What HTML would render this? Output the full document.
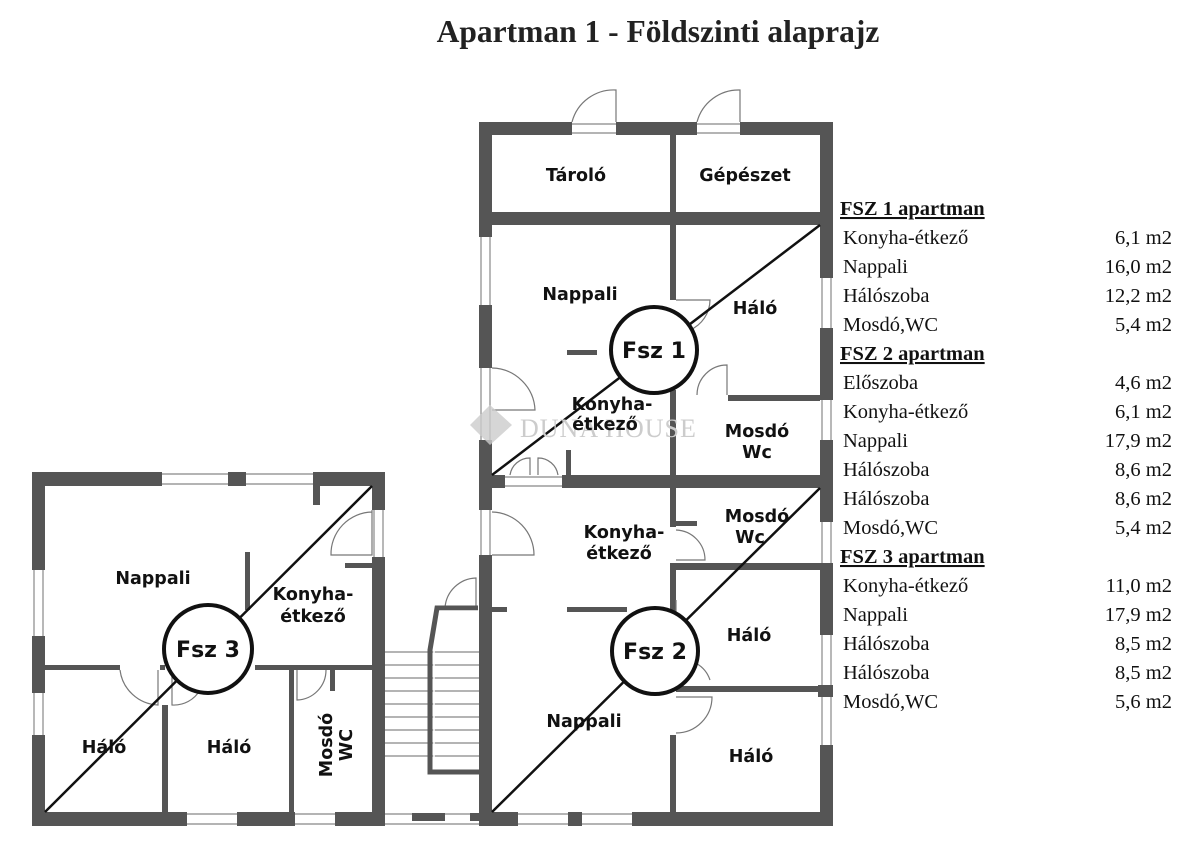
<!DOCTYPE html>
<html><head><meta charset="utf-8"><style>
html,body{margin:0;padding:0;background:#fff;}
svg{display:block}
.w{fill:#555}
.lab{font-family:"DejaVu Sans","Liberation Sans",sans-serif;font-weight:bold;font-size:17.5px;fill:#111;text-anchor:middle}
.t{font-family:"Liberation Serif",serif;font-size:20.5px;fill:#111}
.tr{font-family:"Liberation Serif",serif;font-size:20.5px;fill:#111;text-anchor:end}
.th{font-family:"Liberation Serif",serif;font-size:20.5px;font-weight:bold;fill:#111;text-decoration:underline}
.win{stroke:#888;stroke-width:1.2;fill:none}
.door{stroke:#777;stroke-width:1.2;fill:none}
.circ{font-family:"DejaVu Sans","Liberation Sans",sans-serif;font-weight:bold;font-size:22px;fill:#111;text-anchor:middle}
</style></head><body>
<svg width="1200" height="853" viewBox="0 0 1200 853" xmlns="http://www.w3.org/2000/svg">
<text x="658" y="42" style="font-family:'Liberation Serif',serif;font-weight:bold;font-size:31.5px;fill:#222" text-anchor="middle">Apartman 1 - Földszinti alaprajz</text>

<!-- ===== RIGHT BUILDING ===== -->
<g class="win">
<line x1="572" y1="124" x2="616" y2="124"/><line x1="572" y1="133" x2="616" y2="133"/>
<line x1="697" y1="124" x2="740" y2="124"/><line x1="697" y1="133" x2="740" y2="133"/>
<line x1="481" y1="237" x2="481" y2="305"/><line x1="490" y1="237" x2="490" y2="305"/>
<line x1="481" y1="368" x2="481" y2="440"/><line x1="490" y1="368" x2="490" y2="440"/>
<line x1="481" y1="510" x2="481" y2="555"/><line x1="490" y1="510" x2="490" y2="555"/>
<line x1="822" y1="278" x2="822" y2="328"/><line x1="831" y1="278" x2="831" y2="328"/>
<line x1="822" y1="400" x2="822" y2="440"/><line x1="831" y1="400" x2="831" y2="440"/>
<line x1="822" y1="522" x2="822" y2="563"/><line x1="831" y1="522" x2="831" y2="563"/>
<line x1="822" y1="635" x2="822" y2="745"/><line x1="831" y1="635" x2="831" y2="745"/>
<line x1="505" y1="477" x2="562" y2="477"/><line x1="505" y1="486" x2="562" y2="486"/>
<line x1="518" y1="814" x2="568" y2="814"/><line x1="518" y1="824" x2="568" y2="824"/>
<line x1="582" y1="814" x2="632" y2="814"/><line x1="582" y1="824" x2="632" y2="824"/>
<line x1="385" y1="814" x2="479" y2="814"/><line x1="385" y1="824" x2="479" y2="824"/>
</g>
<g class="w">
<rect x="479" y="122" width="93" height="13"/>
<rect x="616" y="122" width="81" height="13"/>
<rect x="740" y="122" width="93" height="13"/>
<rect x="479" y="122" width="13" height="115"/>
<rect x="479" y="305" width="13" height="63"/>
<rect x="479" y="440" width="13" height="70"/>
<rect x="479" y="555" width="13" height="271"/>
<rect x="820" y="122" width="13" height="156"/>
<rect x="820" y="328" width="13" height="72"/>
<rect x="820" y="440" width="13" height="82"/>
<rect x="820" y="563" width="13" height="72"/>
<rect x="818" y="685" width="15" height="12"/>
<rect x="820" y="745" width="13" height="81"/>
<rect x="479" y="212" width="354" height="13"/>
<rect x="670" y="135" width="6" height="77"/>
<rect x="670" y="225" width="6" height="75"/>
<rect x="670" y="390" width="6" height="85"/>
<rect x="728" y="395" width="92" height="6"/>
<rect x="479" y="475" width="26" height="13"/>
<rect x="562" y="475" width="271" height="13"/>
<rect x="566" y="450" width="5" height="38"/>
<rect x="567" y="350" width="30" height="5"/>
<rect x="670" y="488" width="6" height="39"/>
<rect x="676" y="521" width="21" height="5"/>
<rect x="670" y="563" width="150" height="7"/>
<rect x="670" y="563" width="6" height="50"/>
<rect x="676" y="686" width="144" height="6"/>
<rect x="670" y="735" width="6" height="85"/>
<rect x="492" y="607" width="15" height="5"/>
<rect x="567" y="607" width="60" height="5"/>
<rect x="479" y="812" width="39" height="14"/>
<rect x="568" y="812" width="14" height="14"/>
<rect x="632" y="812" width="201" height="14"/>
</g>
<g class="door">
<path d="M572 122 A43 43 0 0 1 616 90 L616 122"/>
<path d="M697 122 A43 43 0 0 1 740 90 L740 122"/>
<path d="M492 368 A44 44 0 0 1 535 410 L492 410"/>
<path d="M492 512 A43 43 0 0 1 534 555 L492 555"/>
<path d="M510 475 A20 20 0 0 1 530 458 L530 475 M558 475 A20 20 0 0 0 538 458 L538 475"/>
<path d="M676 300 L710 300 A33 33 0 0 1 690 330"/>
<path d="M697 395 A30 30 0 0 1 727 365 L727 395"/>
<path d="M676 530 A30 30 0 0 1 705 560 L676 560"/>
<path d="M676 600 L676 670"/>
<path d="M676 660 A30 30 0 0 1 710 680"/>
<path d="M676 697 L712 697 A36 36 0 0 1 676 733"/>
<path d="M445 608 A32 32 0 0 1 476 578 L476 608"/>
</g>
<g stroke="#888" stroke-width="1.2">
<line x1="385" y1="652" x2="479" y2="652"/><line x1="385" y1="665" x2="479" y2="665"/>
<line x1="385" y1="678" x2="479" y2="678"/><line x1="385" y1="691" x2="479" y2="691"/>
<line x1="385" y1="704" x2="479" y2="704"/><line x1="385" y1="717" x2="479" y2="717"/>
<line x1="385" y1="730" x2="479" y2="730"/><line x1="385" y1="743" x2="479" y2="743"/>
<line x1="385" y1="756" x2="479" y2="756"/>
</g>
<path d="M478 608 L437 608 L430 650 L430 772 L479 772" fill="none" stroke="#555" stroke-width="5"/>
<path d="M478 611 L440 611 L434 652 L434 768 L479 768" fill="none" stroke="#fff" stroke-width="1.5"/>
<g class="w"><rect x="412" y="813" width="33" height="8"/><rect x="470" y="813" width="9" height="8"/></g>

<!-- ===== LEFT BUILDING ===== -->
<g class="win">
<line x1="162" y1="474" x2="313" y2="474"/><line x1="162" y1="484" x2="313" y2="484"/>
<line x1="34" y1="570" x2="34" y2="636"/><line x1="43" y1="570" x2="43" y2="636"/>
<line x1="34" y1="693" x2="34" y2="735"/><line x1="43" y1="693" x2="43" y2="735"/>
<line x1="374" y1="510" x2="374" y2="557"/><line x1="383" y1="510" x2="383" y2="557"/>
<line x1="187" y1="814" x2="237" y2="814"/><line x1="187" y1="824" x2="237" y2="824"/>
<line x1="295" y1="814" x2="335" y2="814"/><line x1="295" y1="824" x2="335" y2="824"/>
</g>
<g class="w">
<rect x="32" y="472" width="130" height="14"/>
<rect x="228" y="472" width="18" height="14"/>
<rect x="313" y="472" width="72" height="14"/>
<rect x="313" y="486" width="7" height="19"/>
<rect x="32" y="472" width="13" height="98"/>
<rect x="32" y="636" width="13" height="57"/>
<rect x="32" y="735" width="13" height="91"/>
<rect x="372" y="472" width="13" height="38"/>
<rect x="372" y="557" width="13" height="269"/>
<rect x="345" y="563" width="27" height="5"/>
<rect x="245" y="552" width="5" height="58"/>
<rect x="45" y="665" width="75" height="5"/>
<rect x="160" y="665" width="5" height="5"/>
<rect x="255" y="665" width="117" height="5"/>
<rect x="214" y="667" width="12" height="9"/>
<rect x="162" y="705" width="6" height="108"/>
<rect x="289" y="670" width="5" height="143"/>
<rect x="330" y="670" width="5" height="21"/>
<rect x="32" y="812" width="155" height="14"/>
<rect x="237" y="812" width="58" height="14"/>
<rect x="335" y="812" width="50" height="14"/>
</g>
<g class="door">
<path d="M372 510 L372 555 L331 555 A42 42 0 0 1 372 512"/>
<path d="M120 670 A40 40 0 0 0 158 705 L158 670"/>
<path d="M172 670 L172 705 A30 30 0 0 0 200 690"/>
<path d="M297 670 L297 700 A30 30 0 0 0 326 670"/>
</g>

<g stroke="#111" stroke-width="2.5">
<line x1="492" y1="475" x2="820" y2="225"/>
<line x1="492" y1="812" x2="820" y2="488"/>
<line x1="45" y1="812" x2="372" y2="486"/>
</g>

<text x="520" y="437" style="font-family:'Liberation Serif',serif;font-size:26px;fill:#ccc;letter-spacing:1px">DUNA HOUSE</text>
<path d="M470 425 L490 405 L512 425 L490 445 Z" fill="#ccc" opacity="0.8"/>

<text class="lab" x="580" y="300">Nappali</text>
<text class="lab" x="576" y="181">Tároló</text>
<text class="lab" x="745" y="181">Gépészet</text>
<text class="lab" x="755" y="314">Háló</text>
<text class="lab" x="612" y="410">Konyha-</text>
<text class="lab" x="605" y="430">étkező</text>
<text class="lab" x="757" y="437">Mosdó</text>
<text class="lab" x="757" y="458">Wc</text>
<text class="lab" x="624" y="538">Konyha-</text>
<text class="lab" x="619" y="559">étkező</text>
<text class="lab" x="757" y="522">Mosdó</text>
<text class="lab" x="750" y="543">Wc</text>
<text class="lab" x="749" y="641">Háló</text>
<text class="lab" x="584" y="727">Nappali</text>
<text class="lab" x="751" y="762">Háló</text>
<text class="lab" x="153" y="584">Nappali</text>
<text class="lab" x="313" y="600">Konyha-</text>
<text class="lab" x="313" y="622">étkező</text>
<text class="lab" x="104" y="753">Háló</text>
<text class="lab" x="229" y="753">Háló</text>
<text class="lab" transform="translate(332,745) rotate(-90)" x="0" y="0">Mosdó</text>
<text class="lab" transform="translate(352,745) rotate(-90)" x="0" y="0">WC</text>

<g fill="#fff" stroke="#111" stroke-width="4">
<circle cx="654" cy="350" r="43"/>
<circle cx="655" cy="651" r="43"/>
<circle cx="208" cy="649" r="44"/>
</g>
<text class="circ" x="654" y="358">Fsz 1</text>
<text class="circ" x="655" y="659">Fsz 2</text>
<text class="circ" x="208" y="657">Fsz 3</text>

<text class="th" x="840" y="215">FSZ 1 apartman</text>
<text class="t" x="843" y="244">Konyha-étkező</text><text class="tr" x="1172" y="244">6,1 m2</text>
<text class="t" x="843" y="273">Nappali</text><text class="tr" x="1172" y="273">16,0 m2</text>
<text class="t" x="843" y="302">Hálószoba</text><text class="tr" x="1172" y="302">12,2 m2</text>
<text class="t" x="843" y="331">Mosdó,WC</text><text class="tr" x="1172" y="331">5,4 m2</text>
<text class="th" x="840" y="360">FSZ 2 apartman</text>
<text class="t" x="843" y="389">Előszoba</text><text class="tr" x="1172" y="389">4,6 m2</text>
<text class="t" x="843" y="418">Konyha-étkező</text><text class="tr" x="1172" y="418">6,1 m2</text>
<text class="t" x="843" y="447">Nappali</text><text class="tr" x="1172" y="447">17,9 m2</text>
<text class="t" x="843" y="476">Hálószoba</text><text class="tr" x="1172" y="476">8,6 m2</text>
<text class="t" x="843" y="505">Hálószoba</text><text class="tr" x="1172" y="505">8,6 m2</text>
<text class="t" x="843" y="534">Mosdó,WC</text><text class="tr" x="1172" y="534">5,4 m2</text>
<text class="th" x="840" y="563">FSZ 3 apartman</text>
<text class="t" x="843" y="592">Konyha-étkező</text><text class="tr" x="1172" y="592">11,0 m2</text>
<text class="t" x="843" y="621">Nappali</text><text class="tr" x="1172" y="621">17,9 m2</text>
<text class="t" x="843" y="650">Hálószoba</text><text class="tr" x="1172" y="650">8,5 m2</text>
<text class="t" x="843" y="679">Hálószoba</text><text class="tr" x="1172" y="679">8,5 m2</text>
<text class="t" x="843" y="708">Mosdó,WC</text><text class="tr" x="1172" y="708">5,6 m2</text>
</svg>
</body></html>
